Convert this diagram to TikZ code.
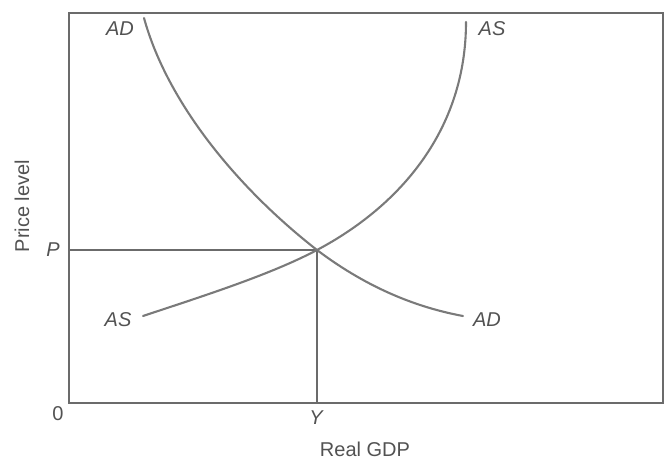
\documentclass[tikz,border=0pt]{standalone}
\usepackage{fontspec}
\setmainfont{Liberation Sans}
\begin{document}
\begin{tikzpicture}[x=1pt,y=-1pt,
  curve/.style={draw=black!52,line width=2.1pt,line cap=round},
  frame/.style={draw=black!58,line width=1.8pt},
  guide/.style={draw=black!58,line width=1.5pt},
  lbl/.style={text=black!68,font=\fontsize{20}{23}\selectfont,inner sep=0pt},
  ilbl/.style={lbl,font=\fontsize{20}{23}\selectfont\itshape}]
\useasboundingbox (0,0) rectangle (665,461);
\coordinate (O) at (69,403);
\coordinate (TR) at (663,13);
\coordinate (E) at (317,250);
\draw[frame] (O) rectangle (TR);
\draw[guide] (E) -- (E -| O);
\draw[guide] (E) -- (E |- O);
\draw[curve] (144,18) .. controls (168,105) and (240,190) .. (E)
  .. controls (370,290) and (420,308) .. (463,316);
\draw[curve] (143,316) .. controls (200,297) and (270,275) .. (E)
  .. controls (400,206) and (466,130) .. (466,22);
\node[ilbl] (adtop) at (120,29) {AD};
\node[ilbl] (astop) at (492,29) {AS};
\node[ilbl] (asbot) at (118,320) {AS};
\node[ilbl] (adbot) at (487,320) {AD};
\node[ilbl] (p) at (53,250) {P};
\node[ilbl] (y) at (316,418) {Y};
\node[lbl] (zero) at (58,414) {0};
\node[lbl] (xlab) at (365,449) {Real GDP};
\node[lbl,rotate=90] (ylab) at (22,206) {Price level};
\end{tikzpicture}
\end{document}
